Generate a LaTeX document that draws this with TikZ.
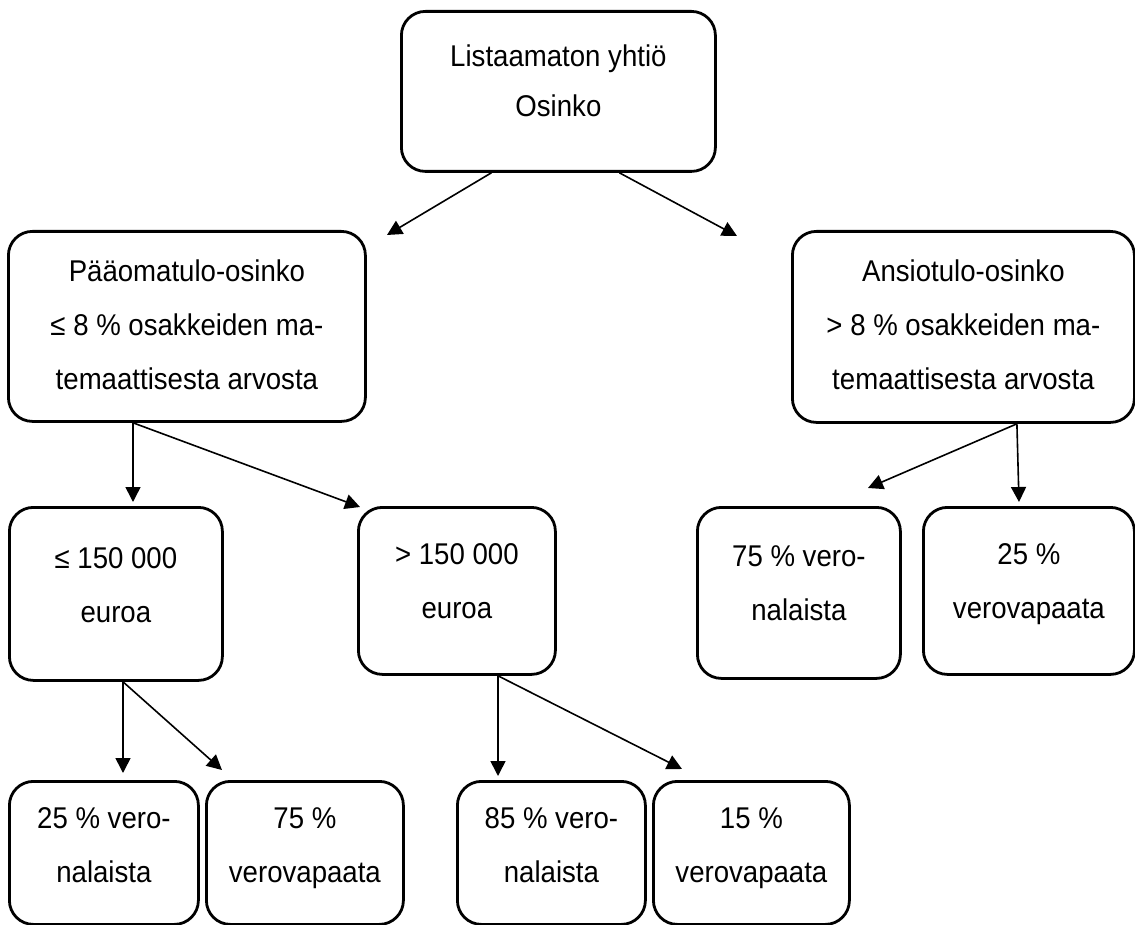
\documentclass[tikz,border=0pt]{standalone}
\usepackage{fontspec}
\setmainfont[FakeStretch=0.92]{Liberation Sans}
\usetikzlibrary{arrows.meta}
\newcommand{\boxtxt}[4]{\parbox[t][#2pt][t]{#1pt}{\fontsize{30pt}{54pt}\selectfont\centering\vspace*{#3pt}\strut #4\par}}
\tikzset{
  flowbox/.style={draw, line width=2.8pt, rounded corners=24pt, inner sep=0pt, anchor=north west},
  conn/.style={line width=1.6pt, -{Triangle[length=15pt,width=15pt]}},
}
\begin{document}
\begin{tikzpicture}[x=1pt,y=-1pt]
\useasboundingbox (0,0) rectangle (1135,925);
% boxes
\node[flowbox] (top) at (400,10) {\boxtxt{314}{160}{17.2}{Listaamaton yhtiö\\[-4pt]Osinko}};
\node[flowbox] (pa) at (7,230) {\boxtxt{357}{190}{12.2}{Pääomatulo-osinko\\≤ 8 \% osakkeiden ma-\\temaattisesta arvosta}};
\node[flowbox] (an) at (791,230) {\boxtxt{342}{191}{12.2}{Ansiotulo-osinko\\> 8 \% osakkeiden ma-\\temaattisesta arvosta}};
\node[flowbox] (le) at (8,506) {\boxtxt{213}{173}{23.2}{≤ 150 000\\euroa}};
\node[flowbox] (gt) at (357,506) {\boxtxt{197}{167}{19.2}{> 150 000\\euroa}};
\node[flowbox] (rv) at (696,506) {\boxtxt{203}{171}{21.2}{75 \% vero-\\nalaista}};
\node[flowbox] (rf) at (922,506) {\boxtxt{211}{167}{19.2}{25 \%\\verovapaata}};
\node[flowbox] (b1) at (8,780) {\boxtxt{189}{143}{9.2}{25 \% vero-\\nalaista}};
\node[flowbox] (b2) at (205,780) {\boxtxt{197}{143}{9.2}{75 \%\\verovapaata}};
\node[flowbox] (b3) at (456,780) {\boxtxt{188}{143}{9.2}{85 \% vero-\\nalaista}};
\node[flowbox] (b4) at (652,780) {\boxtxt{196}{143}{9.2}{15 \%\\verovapaata}};
% arrow ends
\coordinate (e1) at (387,235);
\coordinate (e2) at (737,236);
\coordinate (e3) at (133,502);
\coordinate (e4) at (360,507);
\coordinate (e5) at (123,773);
\coordinate (e6) at (222,770);
\coordinate (e7) at (498,776);
\coordinate (e8) at (682,769);
\coordinate (e9) at (868,488);
\coordinate (e10) at (1019,502);
% connectors
\draw[conn] ([xshift=-67pt]top.south) -- (e1);
\draw[conn] ([xshift=61pt]top.south) -- (e2);
\draw[conn] (pa.south -| e3) -- (e3);
\draw[conn] (pa.south -| e3) -- (e4);
\draw[conn] (le.south -| e5) -- (e5);
\draw[conn] (le.south -| e5) -- (e6);
\draw[conn] (gt.south -| e7) -- (e7);
\draw[conn] (gt.south -| e7) -- (e8);
\draw[conn] ([xshift=53.5pt]an.south) -- (e9);
\draw[conn] ([xshift=53.5pt]an.south) -- (e10);
\end{tikzpicture}
\end{document}
